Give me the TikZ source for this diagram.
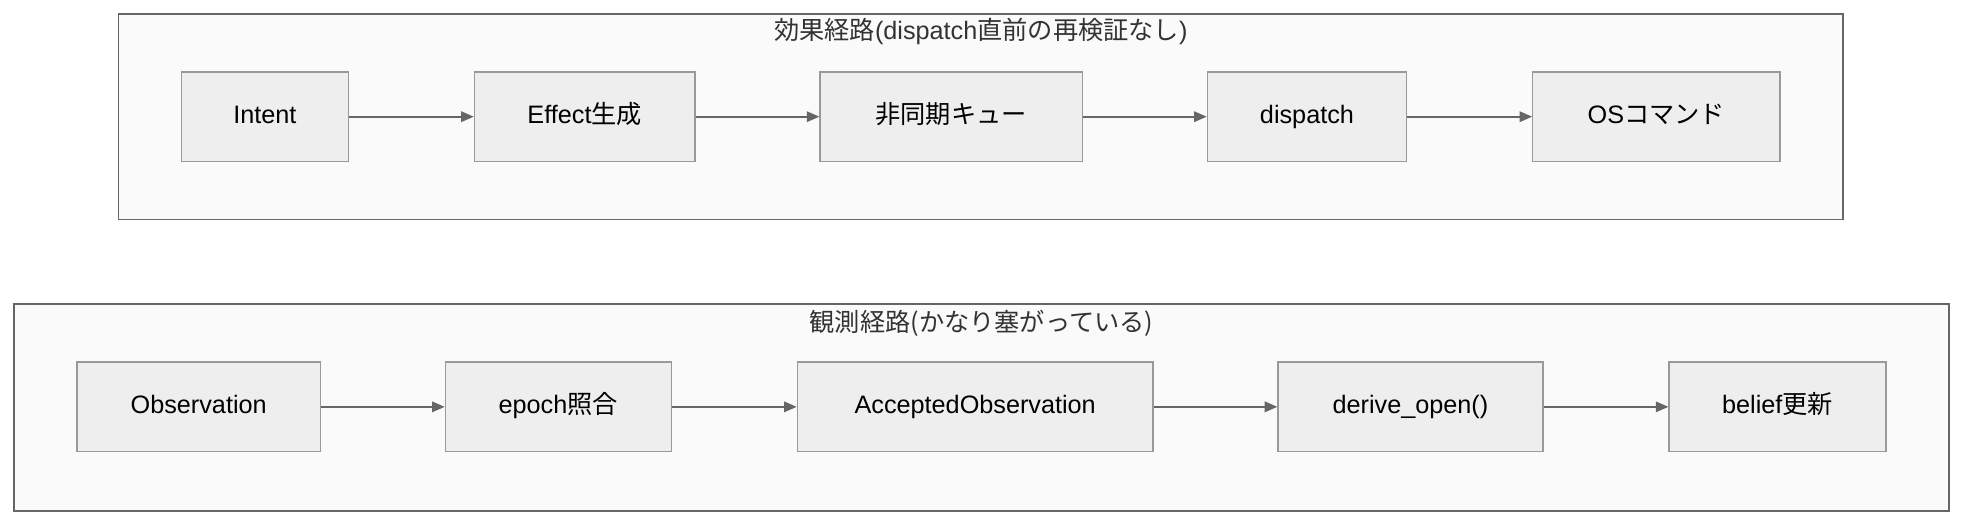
\documentclass[tikz,border=0pt]{standalone}
\usepackage{fontspec}
\setmainfont{Liberation Sans}
\newfontfamily\cjk{Noto Sans CJK JP}
\newcommand{\jp}[1]{{\cjk #1}}
\usetikzlibrary{arrows.meta}
\definecolor{clfill}{HTML}{FAFAFA}
\definecolor{cldraw}{HTML}{666666}
\definecolor{ndfill}{HTML}{EEEEEE}
\definecolor{nddraw}{HTML}{999999}
\begin{document}
\begin{tikzpicture}[x=0.6pt,y=-0.6pt,
  cluster/.style={draw=cldraw,fill=clfill,line width=0.7pt},
  title/.style={font=\fontsize{12}{14}\selectfont,text=black!80},
  box/.style={draw=nddraw,fill=ndfill,line width=0.6pt,minimum height=42.6pt,inner sep=0pt,text height=9pt,text depth=3pt,font=\fontsize{12}{14}\selectfont},
  arr/.style={draw=cldraw,line width=0.8pt,-{Triangle[length=6pt,width=5pt]}}]
\useasboundingbox (0,0) rectangle (1560,417);
\draw[cluster] (94,11) rectangle (1461,174);
\node[title] (t1) at (777.5,25) {\jp{効果経路}(dispatch\jp{直前の再検証なし})};
\draw[cluster] (11,241) rectangle (1545,405);
\node[title] (t2) at (778,256) {\jp{観測経路(かなり塞がっている)}};
\node[box,minimum width=79.2pt] (a1) at (210,92.5) {Intent};
\node[box,minimum width=105pt] (a2) at (463.5,92.5) {Effect\jp{生成}};
\node[box,minimum width=124.8pt] (a3) at (754,92.5) {\jp{非同期キュー}};
\node[box,minimum width=94.8pt] (a4) at (1036,92.5) {dispatch};
\node[box,minimum width=117.6pt] (a5) at (1313,92.5) {OS\jp{コマンド}};
\node[box,minimum width=115.8pt] (b1) at (157.5,322.5) {Observation};
\node[box,minimum width=107.4pt] (b2) at (442.5,322.5) {epoch\jp{照合}};
\node[box,minimum width=169.2pt] (b3) at (773,322.5) {AcceptedObservation};
\node[box,minimum width=126pt] (b4) at (1118,322.5) {derive\_open()};
\node[box,minimum width=103.2pt] (b5) at (1409,322.5) {belief\jp{更新}};
\foreach \u/\v in {a1/a2,a2/a3,a3/a4,a4/a5,b1/b2,b2/b3,b3/b4,b4/b5}
  \draw[arr] (\u) -- (\v);
\end{tikzpicture}
\end{document}
